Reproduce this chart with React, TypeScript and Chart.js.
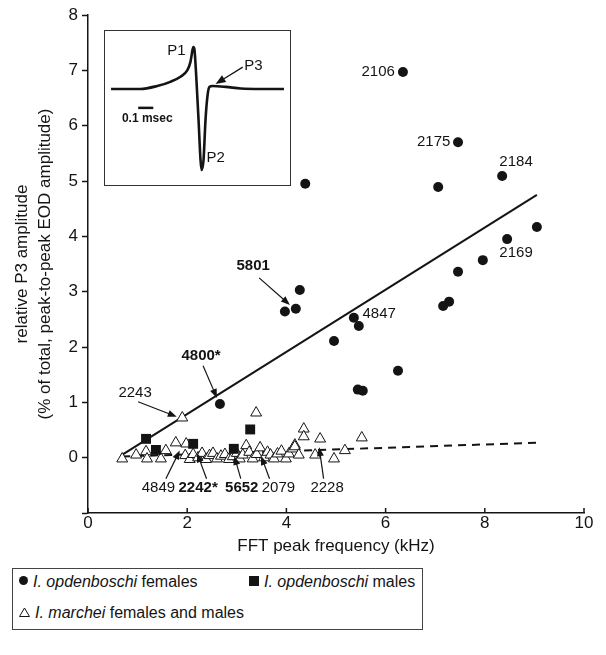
import React, { useEffect, useRef } from 'react';
import { Chart, registerables } from 'chart.js';

Chart.register(...registerables);

const FONT = '"Liberation Sans", Arial, Helvetica, sans-serif';
const INK = '#141414';

// I. opdenboschi females
const femaleX = [6.35, 7.46, 8.35, 7.06, 4.38, 9.05, 8.45, 7.96, 7.46, 7.28, 7.16, 4.27, 4.19, 3.97, 5.36, 5.46, 4.96, 6.25, 5.44, 5.54, 2.66];
const femaleY = [6.97, 5.70, 5.09, 4.89, 4.95, 4.17, 3.95, 3.57, 3.36, 2.82, 2.74, 3.03, 2.69, 2.64, 2.53, 2.38, 2.11, 1.57, 1.23, 1.21, 0.97];

// I. opdenboschi males
const maleX = [1.17, 1.37, 2.12, 2.94, 3.27];
const maleY = [0.34, 0.14, 0.25, 0.16, 0.51];

// I. marchei females and males
const marcheiX = [0.69, 0.97, 1.17, 1.19, 1.47, 1.57, 1.77, 1.90, 1.98, 1.96, 2.05, 2.12, 2.22, 2.30, 2.38, 2.45, 2.52, 2.60, 2.68, 2.76, 2.84, 2.92, 3.00, 3.06, 3.12, 3.19, 3.25, 3.32, 3.39, 3.40, 3.47, 3.55, 3.62, 3.68, 3.75, 3.82, 3.90, 3.99, 4.05, 4.13, 4.17, 4.17, 4.25, 4.35, 4.35, 4.58, 4.68, 4.96, 5.18, 5.52];
const marcheiY = [-0.02, 0.05, 0.11, -0.02, -0.02, 0.13, 0.27, 0.72, 0.25, 0.04, -0.03, 0.06, 0.00, 0.08, -0.03, 0.04, 0.08, -0.02, 0.03, 0.06, -0.03, 0.02, 0.08, -0.02, 0.05, 0.22, 0.10, -0.02, 0.81, 0.06, 0.18, 0.00, 0.10, 0.05, -0.02, 0.07, 0.12, -0.02, 0.07, 0.16, 0.23, 0.20, 0.05, 0.52, 0.38, 0.05, 0.34, -0.02, 0.13, 0.36];

// regression lines
const fitOpdX = [0.67, 9.05];
const fitOpdY = [0.04, 4.75];
const fitMarX = [0.69, 9.05];
const fitMarY = [0.02, 0.27];

// axis ticks
const xTicks = [0, 2, 4, 6, 8, 10];
const yTicks = [-1, 0, 1, 2, 3, 4, 5, 6, 7, 8];

// specimen labels: text, bold, label position, optional arrow start / tip
const noteText = ['2106', '2175', '2184', '2169', '4847', '5801', '4800*', '2243', '4849', '2242*', '5652', '2079', '2228'];
const noteBold = [false, false, false, false, false, true, true, false, false, true, true, false, false];
const noteX = [5.85, 6.97, 8.63, 8.63, 5.87, 3.33, 2.28, 0.95, 1.42, 2.22, 3.10, 3.84, 4.82];
const noteY = [6.97, 5.70, 5.34, 3.70, 2.60, 3.47, 1.84, 1.17, -0.55, -0.55, -0.55, -0.55, -0.55];
const arrowFrom: (number[] | null)[] = [null, null, null, null, null, [3.45, 3.25], [2.32, 1.66], [1.01, 1.01], [1.57, -0.38], [2.39, -0.38], [3.08, -0.38], [3.66, -0.38], [4.75, -0.38]];
const arrowTo: (number[] | null)[] = [null, null, null, null, null, [4.07, 2.76], [2.60, 1.08], [1.79, 0.74], [1.85, 0.13], [2.20, 0.08], [2.95, 0.03], [3.49, 0.03], [4.66, 0.19]];

// inset EOD waveform (time in msec, relative amplitude)
const waveT = [0.047, 0.24, 0.353, 0.44, 0.507, 0.553, 0.573, 0.587, 0.593, 0.60, 0.613, 0.627, 0.64, 0.647, 0.66, 0.673, 0.687, 0.70, 0.72, 0.807, 0.907, 1.04, 1.193];
const waveV = [0, 0, 0.07, 0.17, 0.29, 0.45, 0.64, 0.93, 1.0, 0.93, 0.21, -0.74, -1.69, -1.93, -1.69, -0.74, -0.14, 0.05, 0.07, 0.05, 0.01, 0, 0];
const insetText = ['P1', 'P2', 'P3', '0.1 msec'];
const insetTextT = [0.48, 0.74, 0.99, 0.287];
const insetTextV = [0.9, -1.64, 0.55, -0.71];
const scaleBarT = [0.227, 0.327];
const scaleBarV = -0.45;
const p3ArrowFrom = [0.92, 0.52];
const p3ArrowTo = [0.74, 0.12];

const legendItems = [
  { marker: 'circle', species: 'I. opdenboschi', rest: ' females' },
  { marker: 'square', species: 'I. opdenboschi', rest: ' males' },
  { marker: 'triangle', species: 'I. marchei', rest: ' females and males' },
];

function toPts(xs: number[], ys: number[]) {
  return xs.map((x, i) => ({ x, y: ys[i] }));
}

function drawArrow(ctx: CanvasRenderingContext2D, x1: number, y1: number, x2: number, y2: number, head = 9, half = 3.5) {
  const a = Math.atan2(y2 - y1, x2 - x1);
  ctx.beginPath();
  ctx.moveTo(x1, y1);
  ctx.lineTo(x2 - Math.cos(a) * head * 0.7, y2 - Math.sin(a) * head * 0.7);
  ctx.stroke();
  ctx.beginPath();
  ctx.moveTo(x2, y2);
  ctx.lineTo(x2 - Math.cos(a) * head - Math.sin(a) * half, y2 - Math.sin(a) * head + Math.cos(a) * half);
  ctx.lineTo(x2 - Math.cos(a) * head + Math.sin(a) * half, y2 - Math.sin(a) * head - Math.cos(a) * half);
  ctx.closePath();
  ctx.fill();
}

const notesPlugin = {
  id: 'notes',
  afterDatasetsDraw(chart: any) {
    const { ctx, scales } = chart;
    const xs = scales.x, ys = scales.y;
    ctx.save();
    ctx.fillStyle = INK;
    ctx.strokeStyle = INK;
    ctx.lineWidth = 1.2;
    ctx.textAlign = 'center';
    ctx.textBaseline = 'middle';
    noteText.forEach((t, i) => {
      ctx.font = `${noteBold[i] ? 'bold ' : ''}15px ${FONT}`;
      ctx.fillText(t, xs.getPixelForValue(noteX[i]), ys.getPixelForValue(noteY[i]));
      const f = arrowFrom[i], to = arrowTo[i];
      if (f && to) {
        drawArrow(ctx, xs.getPixelForValue(f[0]), ys.getPixelForValue(f[1]), xs.getPixelForValue(to[0]), ys.getPixelForValue(to[1]));
      }
    });
    // inward x tick marks
    ctx.lineWidth = 1.5;
    xTicks.forEach((v) => {
      const px = xs.getPixelForValue(v);
      ctx.beginPath();
      ctx.moveTo(px, chart.chartArea.bottom);
      ctx.lineTo(px, chart.chartArea.bottom - 5);
      ctx.stroke();
    });
    ctx.restore();
  },
};

const insetPlugin = {
  id: 'insetNotes',
  afterDatasetsDraw(chart: any) {
    const { ctx, scales } = chart;
    const xs = scales.x, ys = scales.y;
    ctx.save();
    ctx.fillStyle = INK;
    ctx.strokeStyle = INK;
    ctx.textAlign = 'center';
    ctx.textBaseline = 'middle';
    insetText.forEach((t, i) => {
      ctx.font = i === 3 ? `bold 12px ${FONT}` : `15px ${FONT}`;
      ctx.fillText(t, xs.getPixelForValue(insetTextT[i]), ys.getPixelForValue(insetTextV[i]));
    });
    ctx.lineWidth = 2.5;
    ctx.beginPath();
    ctx.moveTo(xs.getPixelForValue(scaleBarT[0]), ys.getPixelForValue(scaleBarV));
    ctx.lineTo(xs.getPixelForValue(scaleBarT[1]), ys.getPixelForValue(scaleBarV));
    ctx.stroke();
    ctx.lineWidth = 1.3;
    drawArrow(ctx, xs.getPixelForValue(p3ArrowFrom[0]), ys.getPixelForValue(p3ArrowFrom[1]), xs.getPixelForValue(p3ArrowTo[0]), ys.getPixelForValue(p3ArrowTo[1]), 10, 4);
    ctx.restore();
  },
};

function Marker({ kind }: { kind: string }) {
  if (kind === 'circle') return <span style={{ display: 'inline-block', width: 9, height: 9, borderRadius: '50%', background: INK, marginRight: 5, verticalAlign: 'middle', position: 'relative', top: -2 }} />;
  if (kind === 'square') return <span style={{ display: 'inline-block', width: 10, height: 10, background: INK, marginRight: 5, verticalAlign: 'middle', position: 'relative', top: -2 }} />;
  return (
    <svg width={11} height={10} style={{ marginRight: 5, verticalAlign: 'middle', position: 'relative', top: -2 }}>
      <polygon points="5.5,1 10.5,9.5 0.5,9.5" fill="white" stroke={INK} strokeWidth={1} />
    </svg>
  );
}

export default function App() {
  const mainRef = useRef<HTMLCanvasElement>(null);
  const insetRef = useRef<HTMLCanvasElement>(null);

  useEffect(() => {
    const main = new Chart(mainRef.current!, {
      type: 'scatter',
      data: {
        datasets: [
          { label: 'fit opdenboschi', type: 'line', data: toPts(fitOpdX, fitOpdY), borderColor: INK, borderWidth: 2, pointRadius: 0, order: 10 },
          { label: 'fit marchei', type: 'line', data: toPts(fitMarX, fitMarY), borderColor: INK, borderWidth: 2, borderDash: [8, 6], pointRadius: 0, order: 9 },
          { label: 'I. marchei', data: toPts(marcheiX, marcheiY), pointStyle: 'triangle', pointRadius: 6.3, backgroundColor: '#ffffff', borderColor: INK, borderWidth: 1, order: 3 },
          { label: 'I. opdenboschi males', data: toPts(maleX, maleY), pointStyle: 'rect', pointRadius: 7, backgroundColor: INK, borderColor: INK, borderWidth: 0, order: 2 },
          { label: 'I. opdenboschi females', data: toPts(femaleX, femaleY), pointStyle: 'circle', pointRadius: 5, backgroundColor: INK, borderColor: INK, borderWidth: 0, order: 1 },
        ],
      },
      options: {
        animation: false,
        responsive: false,
        maintainAspectRatio: false,
        layout: { padding: { left: 0, top: 15, right: 22, bottom: 0 } },
        plugins: { legend: { display: false }, tooltip: { enabled: false } },
        scales: {
          x: {
            type: 'linear',
            min: 0,
            max: 10,
            afterBuildTicks: (s: any) => { s.ticks = xTicks.map((v) => ({ value: v })); },
            ticks: { color: INK, font: { size: 17, family: FONT }, padding: 0, maxRotation: 0 },
            grid: { drawOnChartArea: false, drawTicks: false },
            border: { color: INK, width: 1.5 },
            title: { display: true, text: 'FFT peak frequency (kHz)', color: INK, font: { size: 17, family: FONT }, padding: { top: 0, bottom: 3 } },
            afterFit: (s: any) => { s.height = 47; },
          },
          y: {
            type: 'linear',
            min: -1,
            max: 8,
            afterBuildTicks: (s: any) => { s.ticks = yTicks.map((v) => ({ value: v })); },
            ticks: { color: INK, font: { size: 17, family: FONT }, padding: 4, callback: (v: any) => (v < 0 ? '' : String(v)) },
            grid: { drawOnChartArea: false, drawTicks: true, tickLength: 6, color: INK, tickWidth: 1.5 },
            border: { color: INK, width: 1.5 },
            title: { display: true, text: ['relative P3 amplitude', '(% of total, peak-to-peak EOD amplitude)'], color: INK, font: { size: 17, family: FONT, lineHeight: 1.35 }, padding: { top: 11, bottom: 0 } },
            afterFit: (s: any) => { s.width = 88; },
          },
        },
      },
      plugins: [notesPlugin],
    } as any);

    const inset = new Chart(insetRef.current!, {
      type: 'line',
      data: {
        datasets: [
          { data: toPts(waveT, waveV), borderColor: INK, borderWidth: 2.6, pointRadius: 0, cubicInterpolationMode: 'monotone', fill: false },
        ],
      },
      options: {
        animation: false,
        responsive: false,
        maintainAspectRatio: false,
        layout: { padding: 0 },
        plugins: { legend: { display: false }, tooltip: { enabled: false } },
        scales: {
          x: { type: 'linear', min: 0.007, max: 1.233, display: false },
          y: { type: 'linear', min: -2.286, max: 1.38, display: false },
        },
      },
      plugins: [insetPlugin],
    } as any);

    return () => {
      main.destroy();
      inset.destroy();
    };
  }, []);

  return (
    <div style={{ position: 'absolute', left: 0, top: 0, width: 606, height: 655, background: '#fff', overflow: 'hidden' }}>
      <canvas ref={mainRef} width={606} height={560} style={{ position: 'absolute', left: 0, top: 0, display: 'block' }} />
      <div style={{ position: 'absolute', left: 104, top: 30, width: 187, height: 156, border: `1px solid #333`, boxSizing: 'border-box', background: '#fff' }}>
        <canvas ref={insetRef} width={185} height={154} style={{ display: 'block' }} />
      </div>
      <div style={{ position: 'absolute', left: 12, top: 568, width: 411, height: 62, border: '1px solid #444', boxSizing: 'border-box', fontFamily: FONT, fontSize: 16, color: INK, whiteSpace: 'nowrap' }}>
        <div style={{ position: 'absolute', left: 6, top: 4 }}>
          <Marker kind={legendItems[0].marker} /><i>{legendItems[0].species}</i>{legendItems[0].rest}
        </div>
        <div style={{ position: 'absolute', left: 236, top: 4 }}>
          <Marker kind={legendItems[1].marker} /><i>{legendItems[1].species}</i>{legendItems[1].rest}
        </div>
        <div style={{ position: 'absolute', left: 6, top: 35 }}>
          <Marker kind={legendItems[2].marker} /><i>{legendItems[2].species}</i>{legendItems[2].rest}
        </div>
      </div>
    </div>
  );
}
